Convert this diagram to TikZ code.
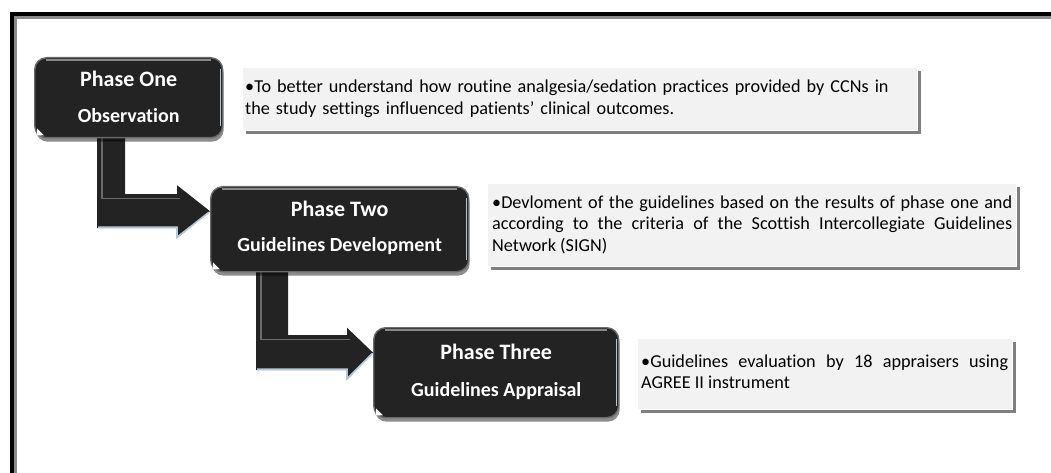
\documentclass[tikz,border=0pt]{standalone}
\usepackage{fontspec}
\setmainfont{Carlito}[Ligatures={NoCommon}]
\usetikzlibrary{calc,shadows,backgrounds}
\definecolor{phasefill}{HTML}{232323}
\definecolor{boxfill}{HTML}{F2F2F2}
\definecolor{shadowgray}{HTML}{7F7F7F}
\definecolor{rimgray}{HTML}{6A6A6A}
\definecolor{rimblue}{HTML}{B5C7D6}
\definecolor{framegray}{HTML}{8A8A8A}
\newcommand\bitem[1]{\setbox0\hbox{•}\hangindent=\wd0 \hangafter=1 \noindent\copy0#1}
\tikzset{
  phasebox/.style={rounded corners=12pt, fill=phasefill, draw=rimgray, line width=1.4pt,
    inner sep=0pt, anchor=north west,
    drop shadow={shadow xshift=1pt, shadow yshift=-4pt, opacity=.45, fill=black}},
  ttl/.style={text=white, font=\fontsize{22}{24}\selectfont\bfseries, inner sep=0pt, anchor=base},
  sub/.style={text=white, font=\fontsize{20}{22}\selectfont\bfseries, inner sep=0pt, anchor=base},
  infobox/.style={fill=boxfill, draw=white, line width=0.6pt, inner sep=0pt, anchor=north west,
    drop shadow={shadow xshift=4pt, shadow yshift=-4pt, opacity=1, fill=shadowgray}},
  infotext/.style={font=\fontsize{18.2}{21.5}\selectfont, inner sep=0pt, anchor=base west},
  arrowfill/.style={fill=phasefill},
  arrowrim/.style={draw=rimblue, line width=1.6pt},
  arrowbevel/.style={draw=rimgray, line width=1.4pt},
}
\begin{document}
\begin{tikzpicture}[x=1pt,y=-1pt]
\useasboundingbox (0,0) rectangle (1051,473);
% frame
\draw[line width=4pt, line join=miter] (12,480) -- (12,14) -- (1060,14);
\draw[framegray, line width=3pt, line join=miter] (15.5,480) -- (15.5,17.5) -- (1060,17.5);

% phase boxes
\node[phasebox, minimum width=188pt, minimum height=80pt] (p1) at (34,57) {};
\node[phasebox, minimum width=258pt, minimum height=85pt] (p2) at (210,186) {};
\node[phasebox, minimum width=245pt, minimum height=90pt] (p3) at (373,327) {};

\foreach \p in {p1,p2,p3}{
  \draw[rimgray!80!white, line width=2pt] ($(\p.north west)+(12,3)$) -- ($(\p.north east)+(-12,3)$);
  \draw[rimblue, line width=1.6pt] ($(\p.north east)+(-3,12)$) -- ($(\p.south east)+(-3,-12)$);
  \fill[white] ($(\p.south west)+(3,-3)$) -- ++(0,-7) -- ++(7,7) -- cycle;
}

\node[ttl] (p1t) at ($(p1.north)+(0,30)$) {Phase One};
\node[sub] (p1s) at ($(p1.north)+(0,66)$) {Observation};
\node[ttl] (p2t) at ($(p2.north)+(0,30)$) {Phase Two};
\node[sub] (p2s) at ($(p2.north)+(0,65)$) {Guidelines Development};
\node[ttl] (p3t) at ($(p3.north)+(0,32)$) {Phase Three};
\node[sub] (p3s) at ($(p3.north)+(0,69)$) {Guidelines Appraisal};

% info boxes
\node[infobox, minimum width=675pt, minimum height=63pt] (b1) at (242,67) {};
\node[infotext, text width=668pt, align=left] (b1t) at ($(b1.north west)+(3,26)$)
  {\bitem{To better understand how routine analgesia/sedation practices provided by CCNs in\newline the study settings influenced patients’ clinical outcomes.}};

\node[infobox, minimum width=529pt, minimum height=83pt] (b2) at (487,183) {};
\node[infotext, text width=520pt, align=justify] (b2t) at ($(b2.north west)+(5,25)$)
  {\bitem{Devloment of the guidelines based on the results of phase one and\linebreak according to the criteria of the Scottish Intercollegiate Guidelines\linebreak Network (SIGN)}};

\node[infobox, minimum width=375pt, minimum height=71pt] (b3) at (637,338) {};
\node[infotext, text width=367pt, align=justify] (b3t) at ($(b3.north west)+(4,29)$)
  {\bitem{Guidelines evaluation by 18 appraisers using\linebreak AGREE II instrument}};

% elbow arrows behind boxes
\begin{pgfonlayer}{background}
\fill[arrowfill] let \p1=($(p1.south west)+(63,-5)$), \p2=($(p2.west)+(0,-18)$) in
  (\x1,\y1) -- (\x1+28pt,\y1) -- (\x1+28pt,\y2+17pt) -- (\x2-33pt,\y2+17pt)
  -- (\x2-33pt,\y2+26pt) -- (\x2,\y2) -- (\x2-33pt,\y2-27pt) -- (\x2-33pt,\y2-17pt)
  -- (\x1,\y2-17pt) -- cycle;
\draw[arrowrim] let \p1=($(p1.south west)+(63,-5)$), \p2=($(p2.west)+(0,-18)$) in
  (\x1+1pt,\y2-16pt) -- (\x2-33pt,\y2-16pt) -- (\x2-33pt,\y2-26pt) -- (\x2-1pt,\y2-1pt);
\draw[arrowbevel] let \p1=($(p1.south west)+(63,-5)$), \p2=($(p2.west)+(0,-18)$) in
  (\x1+5pt,\y1) -- (\x1+5pt,\y2+13pt) -- (\x2-30pt,\y2+13pt);

\fill[arrowfill] let \p1=($(p2.south west)+(46,-5)$), \p2=($(p3.west)+(0,-20)$) in
  (\x1,\y1) -- (\x1+32pt,\y1) -- (\x1+32pt,\y2+17.5pt) -- (\x2-26pt,\y2+17.5pt)
  -- (\x2-26pt,\y2+25pt) -- (\x2,\y2) -- (\x2-26pt,\y2-27pt) -- (\x2-26pt,\y2-17.5pt)
  -- (\x1,\y2-17.5pt) -- cycle;
\draw[arrowrim] let \p1=($(p2.south west)+(46,-5)$), \p2=($(p3.west)+(0,-20)$) in
  (\x1+1pt,\y2-16.5pt) -- (\x2-26pt,\y2-16.5pt) -- (\x2-26pt,\y2-26pt) -- (\x2-1pt,\y2-1pt);
\draw[arrowbevel] let \p1=($(p2.south west)+(46,-5)$), \p2=($(p3.west)+(0,-20)$) in
  (\x1+5pt,\y1) -- (\x1+5pt,\y2+13.5pt) -- (\x2-23pt,\y2+13.5pt);
\end{pgfonlayer}
\end{tikzpicture}
\end{document}
